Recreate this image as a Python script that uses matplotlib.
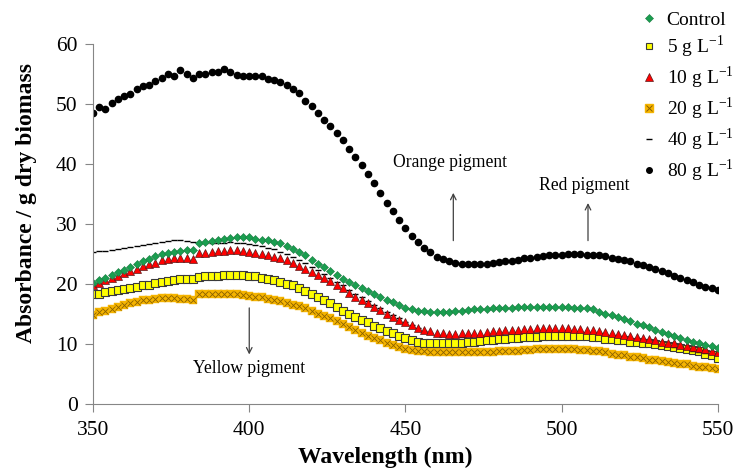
from matplotlib import pyplot as plt
from matplotlib.lines import Line2D
from matplotlib.legend_handler import HandlerTuple

plt.rcParams['font.family'] = ['Liberation Serif', 'DejaVu Serif']
plt.rcParams['mathtext.fontset'] = 'custom'
plt.rcParams['mathtext.rm'] = 'Liberation Serif'

# wavelength grid (nm), one reading every 2 nm
wavelength = list(range(350, 551, 2))

control = [20.2, 20.7, 21.1, 21.6, 22.0, 22.4, 22.9, 23.3, 23.8, 24.2,
           24.7, 25.0, 25.2, 25.4, 25.6, 25.7, 25.7, 26.8, 27.0, 27.2,
           27.4, 27.6, 27.7, 27.8, 27.8, 27.8, 27.6, 27.4, 27.3, 27.1,
           26.8, 26.4, 25.9, 25.3, 24.8, 24.1, 23.4, 22.9, 22.2, 21.5,
           20.9, 20.3, 19.8, 19.3, 18.8, 18.3, 17.9, 17.4, 17.0, 16.5,
           16.1, 15.8, 15.6, 15.5, 15.4, 15.4, 15.4, 15.4, 15.5, 15.5,
           15.7, 15.8, 15.9, 15.9, 16.0, 16.1, 16.1, 16.1, 16.2, 16.2,
           16.2, 16.2, 16.2, 16.2, 16.2, 16.2, 16.2, 16.1, 16.1, 16.0,
           15.8, 15.4, 15.1, 14.8, 14.6, 14.2, 13.8, 13.4, 13.1, 12.8,
           12.4, 12.0, 11.7, 11.3, 11.0, 10.7, 10.3, 10.1, 9.9, 9.7, 9.4]

g5 = [18.3, 18.4, 18.7, 18.8, 19.0, 19.2, 19.3, 19.6, 19.8, 19.9,
      20.2, 20.4, 20.6, 20.7, 20.8, 20.8, 20.8, 21.2, 21.3, 21.4,
      21.4, 21.6, 21.6, 21.6, 21.5, 21.4, 21.3, 21.1, 20.9, 20.7,
      20.3, 20.1, 19.8, 19.3, 18.8, 18.3, 17.8, 17.3, 16.8, 16.2,
      15.6, 15.1, 14.6, 14.1, 13.6, 13.0, 12.7, 12.2, 11.8, 11.3,
      11.0, 10.7, 10.4, 10.2, 10.1, 10.1, 10.1, 10.1, 10.2, 10.2,
      10.3, 10.4, 10.5, 10.6, 10.7, 10.8, 10.9, 11.0, 11.0, 11.1,
      11.2, 11.2, 11.3, 11.3, 11.3, 11.3, 11.3, 11.3, 11.3, 11.3,
      11.2, 11.1, 10.9, 10.8, 10.7, 10.6, 10.4, 10.3, 10.2, 10.1,
      10.0, 9.8, 9.7, 9.5, 9.4, 9.2, 9.0, 8.8, 8.4, 8.1, 7.7]

g10 = [19.8, 20.2, 20.7, 21.0, 21.4, 21.9, 22.2, 22.6, 23.0, 23.3,
       23.6, 24.0, 24.2, 24.3, 24.4, 24.4, 24.2, 25.2, 25.2, 25.4,
       25.6, 25.6, 25.7, 25.7, 25.6, 25.4, 25.2, 25.0, 24.8, 24.6,
       24.3, 24.0, 23.6, 23.1, 22.6, 22.1, 21.5, 21.1, 20.5, 19.8,
       19.3, 18.6, 17.9, 17.3, 16.8, 16.2, 15.7, 15.1, 14.6, 14.0,
       13.6, 13.1, 12.7, 12.4, 12.2, 11.9, 11.8, 11.7, 11.7, 11.8,
       11.8, 11.9, 11.9, 12.0, 12.1, 12.2, 12.3, 12.4, 12.4, 12.5,
       12.5, 12.6, 12.6, 12.6, 12.6, 12.6, 12.6, 12.5, 12.5, 12.4,
       12.3, 12.2, 12.0, 11.9, 11.7, 11.5, 11.3, 11.2, 11.0, 10.8,
       10.7, 10.4, 10.2, 10.1, 9.9, 9.7, 9.5, 9.3, 9.1, 8.9, 8.6]

g20 = [14.9, 15.3, 15.6, 15.9, 16.2, 16.5, 16.8, 17.1, 17.3, 17.4,
       17.6, 17.7, 17.7, 17.7, 17.6, 17.5, 17.3, 18.3, 18.3, 18.4,
       18.4, 18.4, 18.4, 18.3, 18.2, 18.1, 17.9, 17.8, 17.6, 17.4,
       17.2, 16.9, 16.6, 16.3, 16.0, 15.6, 15.1, 14.7, 14.3, 13.8,
       13.3, 12.8, 12.4, 11.9, 11.4, 11.0, 10.6, 10.2, 9.8, 9.5,
       9.2, 9.0, 8.9, 8.8, 8.7, 8.7, 8.6, 8.6, 8.6, 8.6,
       8.6, 8.6, 8.6, 8.7, 8.7, 8.8, 8.8, 8.9, 8.9, 9.0,
       9.0, 9.1, 9.1, 9.1, 9.1, 9.1, 9.1, 9.1, 9.0, 9.0,
       8.9, 8.8, 8.6, 8.4, 8.2, 8.1, 7.9, 7.8, 7.6, 7.4,
       7.3, 7.1, 7.0, 6.8, 6.7, 6.6, 6.4, 6.2, 6.1, 6.0, 5.9]

g40 = [25.4, 25.5, 25.6, 25.7, 25.9, 26.0, 26.2, 26.4, 26.6, 26.7,
       26.9, 27.0, 27.2, 27.4, 27.4, 27.2, 27.0, 26.9, 26.9, 26.8,
       26.8, 26.9, 27.0, 26.9, 26.8, 26.7, 26.6, 26.4, 26.1, 25.8,
       25.4, 25.0, 24.6, 24.1, 23.5, 22.9, 22.3, 21.7, 21.1, 20.4,
       19.8, 19.1, 18.4, 17.8, 17.2, 16.6, 16.0, 15.4, 14.8, 14.3,
       13.7, 13.2, 12.7, 12.2, 11.8, 11.5, 11.3, 11.2, 11.2, 11.2,
       11.3, 11.3, 11.4, 11.5, 11.6, 11.7, 11.8, 11.9, 11.9, 12.0,
       12.0, 12.1, 12.1, 12.1, 12.1, 12.1, 12.1, 12.0, 12.0, 11.9,
       11.8, 11.6, 11.5, 11.3, 11.2, 11.0, 10.8, 10.7, 10.5, 10.3,
       10.1, 9.9, 9.7, 9.5, 9.3, 9.1, 8.9, 8.7, 8.5, 8.3, 8.1]

g80 = [48.6, 49.6, 49.3, 50.2, 50.9, 51.4, 51.8, 52.5, 53.0, 53.3,
       53.9, 54.4, 55.1, 54.8, 55.7, 55.0, 54.4, 55.1, 55.1, 55.4,
       55.4, 55.9, 55.4, 54.9, 54.8, 54.8, 54.7, 54.7, 54.2, 54.0,
       53.7, 53.2, 52.6, 51.9, 50.6, 49.7, 48.6, 47.4, 46.4, 45.2,
       44.0, 42.6, 41.2, 39.9, 38.3, 36.8, 35.2, 33.6, 32.2, 30.7,
       29.3, 28.1, 27.1, 26.1, 25.3, 24.6, 24.2, 23.8, 23.6, 23.4,
       23.3, 23.3, 23.3, 23.4, 23.6, 23.7, 23.8, 23.9, 24.1, 24.3,
       24.4, 24.6, 24.7, 24.8, 24.9, 24.9, 25.0, 25.0, 25.0, 24.9,
       24.9, 24.8, 24.7, 24.4, 24.2, 24.0, 23.8, 23.4, 23.2, 22.9,
       22.5, 22.2, 21.8, 21.4, 21.1, 20.7, 20.3, 19.9, 19.6, 19.3, 19.1]

labels = ['Control', '5 g L$^{\\mathregular{-1}}$', '10 g L$^{\\mathregular{-1}}$',
          '20 g L$^{\\mathregular{-1}}$', '40 g L$^{\\mathregular{-1}}$',
          '80 g L$^{\\mathregular{-1}}$']

fig = plt.figure(figsize=(7.34, 4.73), dpi=100)
ax = fig.add_axes([0.1267, 0.1459, 0.8515, 0.7601])

grey = '#868686'
orange = '#f5b400'
ax.plot(wavelength, g20, ls='none', marker='s', ms=6, mfc=orange, mec=orange, mew=0.3)
ax.plot(wavelength, g20, ls='none', marker='x', ms=5, mec='#8a6000', mew=0.6)
ax.plot(wavelength, g5, ls='none', marker='s', ms=5.5, mfc='#ffff00',
        mec='#3a3a3a', mew=0.8)
ax.plot(wavelength, g40, ls='none', marker='_', ms=5, mec='black', mew=1.0)
ax.plot(wavelength, g10, ls='none', marker='^', ms=6, mfc='#ff0000',
        mec='#5a1a1a', mew=0.5)
ax.plot(wavelength, control, ls='none', marker='D', ms=4.5, mfc='#1a9e50',
        mec='#1a7a40', mew=0.4)
ax.plot(wavelength, g80, ls='none', marker='o', ms=4.5, mfc='black',
        mec='black')

ax.set_xlim(350, 550)
ax.set_ylim(0, 60)
ax.set_xticks(range(350, 551, 50))
ax.set_yticks(range(0, 61, 10))
for side in ['top', 'right']:
    ax.spines[side].set_visible(False)
for side in ['left', 'bottom']:
    ax.spines[side].set_color(grey)
ax.tick_params(colors=grey, labelcolor='black', labelsize=15.5, length=6,
               direction='out')
ax.tick_params(axis='x', pad=6)
ax.tick_params(axis='y', pad=5)

ax.set_xlabel('Wavelength (nm)', fontsize=17, fontweight='bold')
ax.set_ylabel('Absorbance / g dry biomass', fontsize=17, fontweight='bold')
ax.xaxis.set_label_coords(0.467, -0.118)
ax.yaxis.set_label_coords(-0.09, 0.56)

arrow = dict(arrowstyle='->', color='#404040', lw=0.9)
ax.annotate('', xy=(465.3, 35.7), xytext=(465.3, 26.8), arrowprops=arrow)
ax.text(464.3, 40.3, 'Orange pigment', fontsize=12.7, ha='center', va='center')
ax.annotate('', xy=(508.4, 34.0), xytext=(508.4, 26.8), arrowprops=arrow)
ax.text(507.1, 36.5, 'Red pigment', fontsize=12.7, ha='center', va='center')
ax.annotate('', xy=(400, 7.8), xytext=(400, 16.5), arrowprops=arrow)
ax.text(400, 6.0, 'Yellow pigment', fontsize=12.7, ha='center', va='center')

# legend proxies
handles = [
    Line2D([], [], ls='none', marker='D', ms=4, mfc='#1a9e50', mec='#1a7a40', mew=0.4),
    Line2D([], [], ls='none', marker='s', ms=5, mfc='#ffff00', mec='#3a3a3a', mew=0.8),
    Line2D([], [], ls='none', marker='^', ms=5.5, mfc='#ff0000', mec='#5a1a1a', mew=0.5),
    (Line2D([], [], ls='none', marker='s', ms=6, mfc=orange, mec=orange),
     Line2D([], [], ls='none', marker='x', ms=5, mec='#8a6000', mew=0.7)),
    Line2D([], [], ls='none', marker='_', ms=4, mec='black', mew=1.0),
    Line2D([], [], ls='none', marker='o', ms=4, mfc='black', mec='black'),
]
fig.legend(handles, labels, loc='upper right', bbox_to_anchor=(1.015, 1.0),
           frameon=False, fontsize=14, labelspacing=0.22, handlelength=0.8,
           handletextpad=0.5, borderaxespad=0.2,
           handler_map={tuple: HandlerTuple(ndivide=1)})

fig.savefig('out.png', dpi=100)
